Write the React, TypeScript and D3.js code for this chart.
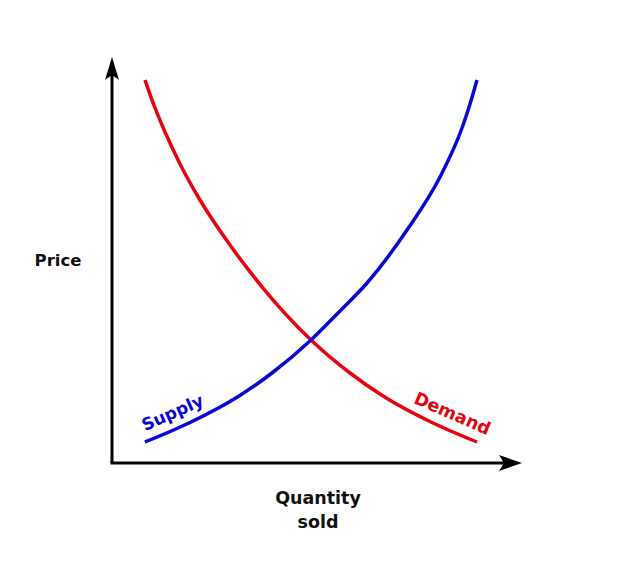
import React from "react";
import * as d3 from "d3";

const demandQty = [8.05, 10.49, 12.93, 16.59, 21.46, 28.78, 36.83, 48.54, 58.05, 66.1, 78.29, 89.02];
const demandPrice = [94.33, 87.44, 81.53, 73.65, 64.78, 53.69, 43.1, 30.3, 22.17, 16.5, 9.85, 5.17];
const supplyQty = [8.05, 18.78, 30.98, 39.02, 48.54, 55.61, 62.2, 71.95, 80.0, 85.37, 87.32, 89.02];
const supplyPrice = [5.17, 9.85, 16.5, 22.17, 30.3, 37.44, 44.33, 57.39, 70.44, 82.51, 88.42, 94.33];

const W = 634;
const H = 569;
const FONT = "'DejaVu Sans', Verdana, sans-serif";

export default function App() {
  const x = d3.scaleLinear().domain([0, 100]).range([112, 522]);
  const y = d3.scaleLinear().domain([0, 100]).range([463, 57]);
  const line = d3
    .line<[number, number]>()
    .x((d) => x(d[0]))
    .y((d) => y(d[1]))
    .curve(d3.curveMonotoneX);
  const demand = demandQty.map((q, i) => [q, demandPrice[i]] as [number, number]);
  const supply = supplyQty.map((q, i) => [q, supplyPrice[i]] as [number, number]);

  const x0 = x(0), y0 = y(0), yTop = y(100), xEnd = x(100);

  return (
    <div style={{ position: "absolute", left: 0, top: 0 }}>
      <svg width={W} height={H} style={{ display: "block", background: "#fff" }}>
        <path d={line(demand) || ""} fill="none" stroke="#e8040e" strokeWidth={3.5} />
        <path d={line(supply) || ""} fill="none" stroke="#0a06d8" strokeWidth={3.5} />
        {/* axes */}
        <line x1={x0} y1={y0} x2={x0} y2={yTop + 14} stroke="#000" strokeWidth={3} />
        <line x1={x0 - 1.5} y1={y0} x2={xEnd - 14} y2={y0} stroke="#000" strokeWidth={3} />
        <path
          d={`M${x0},${yTop} L${x0 + 7},${yTop + 23} L${x0},${yTop + 18} L${x0 - 7},${yTop + 23} Z`}
          fill="#000"
        />
        <path
          d={`M${xEnd},${y0} L${xEnd - 23},${y0 - 8} L${xEnd - 18},${y0} L${xEnd - 23},${y0 + 8} Z`}
          fill="#000"
        />
        {/* labels */}
        <text x={58} y={266} textAnchor="middle" fontFamily={FONT} fontWeight={700} fontSize={16.5} fill="#111">
          Price
        </text>
        <text x={318} y={504} textAnchor="middle" fontFamily={FONT} fontWeight={700} fontSize={17.5} fill="#111">
          Quantity
        </text>
        <text x={318} y={528} textAnchor="middle" fontFamily={FONT} fontWeight={700} fontSize={17.5} fill="#111">
          sold
        </text>
        <text
          transform="translate(175,418) rotate(-24)"
          textAnchor="middle"
          fontFamily={FONT}
          fontWeight={700}
          fontSize={17}
          fill="#0a06d8"
        >
          Supply
        </text>
        <text
          transform="translate(450,419) rotate(23.5)"
          textAnchor="middle"
          fontFamily={FONT}
          fontWeight={700}
          fontSize={17.5}
          fill="#e8040e"
        >
          Demand
        </text>
      </svg>
    </div>
  );
}
